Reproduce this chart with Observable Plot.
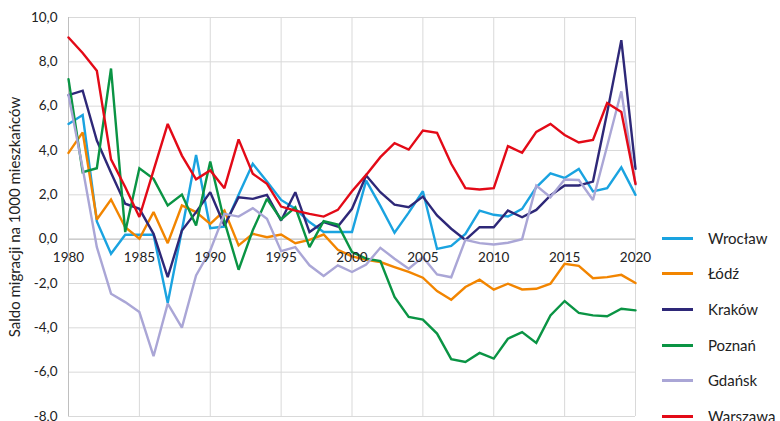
<!DOCTYPE html>
<html>
<head>
<meta charset="utf-8">
<script src="https://cdn.jsdelivr.net/npm/d3@7"></script>
<script src="https://cdn.jsdelivr.net/npm/@observablehq/plot@0.6"></script>
<style>
  html, body { margin: 0; padding: 0; background: #fff; overflow: hidden; }
  #wrap { position: relative; width: 780px; height: 421px; overflow: hidden; font-family: Lato, "Open Sans", sans-serif; }
  #legend { position: absolute; left: 662px; top: 0; width: 118px; height: 421px; }
  .item { position: absolute; left: 0; height: 20px; display: flex; align-items: center; font-size: 15px; color: #222; white-space: nowrap; }
  .item .sw { width: 31px; height: 3px; margin-right: 15px; }
</style>
</head>
<body>
<div id="wrap"><div id="legend"></div></div>
<script>
const years = d3.range(1980, 2021);
const cities = ["Wrocław", "Łódź", "Kraków", "Poznań", "Gdańsk", "Warszawa"];
const colors = ["#1aa3e0", "#f28500", "#2e2878", "#0a9444", "#aaa6d6", "#e30a17"];

const wroclaw = [5.2, 5.6, 0.8, -0.66, 0.2, 0.2, 0.2, -2.88, 0.4, 3.8, 0.5, 0.57, 2.0, 3.4, 2.6, 1.77, 1.37, 0.77, 0.32, 0.32, 0.32, 2.64, 1.5, 0.29, 1.2, 2.16, -0.44, -0.3, 0.24, 1.29, 1.1, 1.02, 1.37, 2.34, 2.97, 2.76, 3.17, 2.15, 2.3, 3.24, 2.0];
const lodz = [3.89, 4.82, 0.89, 1.79, 0.54, 0.02, 1.22, -0.18, 1.52, 1.22, 0.69, 1.29, -0.28, 0.24, 0.09, 0.21, -0.18, -0.03, 0.21, -0.48, -0.78, -0.93, -1.03, -1.26, -1.48, -1.74, -2.34, -2.73, -2.16, -1.83, -2.28, -2.01, -2.27, -2.24, -2.01, -1.11, -1.2, -1.76, -1.71, -1.61, -1.98];
const krakow = [6.5, 6.7, 4.45, 3.0, 1.6, 1.37, 0.24, -1.71, 0.39, 1.22, 2.12, 0.62, 1.89, 1.82, 2.0, 0.84, 2.12, 0.32, 0.77, 0.57, 1.37, 2.87, 2.12, 1.56, 1.44, 1.92, 1.07, 0.47, -0.03, 0.54, 0.54, 1.29, 0.99, 1.32, 1.97, 2.42, 2.42, 2.6, 5.7, 8.98, 3.17];
const poznan = [7.22, 3.02, 3.2, 7.7, 0.32, 3.2, 2.72, 1.52, 2.01, 0.62, 3.5, 0.8, -1.38, 0.4, 1.82, 0.89, 1.44, -0.36, 0.81, 0.66, -0.58, -0.88, -0.99, -2.61, -3.51, -3.63, -4.26, -5.41, -5.54, -5.13, -5.39, -4.49, -4.19, -4.68, -3.44, -2.79, -3.33, -3.44, -3.48, -3.14, -3.21];
const gdansk = [6.5, 3.2, -0.36, -2.46, -2.84, -3.29, -5.28, -2.91, -3.99, -1.64, -0.51, 1.14, 1.02, 1.4, 0.92, -0.54, -0.36, -1.18, -1.66, -1.18, -1.48, -1.14, -0.39, -0.88, -1.33, -0.81, -1.59, -1.72, -0.03, -0.18, -0.24, -0.16, 0.0, 2.42, 1.89, 2.69, 2.67, 1.77, 4.2, 6.67, 2.46];
const warszawa = [9.1, 8.4, 7.6, 3.6, 2.35, 1.0, 3.1, 5.2, 3.77, 2.7, 3.1, 2.3, 4.5, 2.95, 2.5, 1.47, 1.29, 1.14, 1.02, 1.32, 2.16, 2.9, 3.7, 4.33, 4.04, 4.9, 4.8, 3.4, 2.3, 2.24, 2.3, 4.2, 3.9, 4.84, 5.2, 4.7, 4.36, 4.48, 6.14, 5.74, 2.5];

const yTicks = [-8, -6, -4, -2, 0, 2, 4, 6, 8, 10];
const xTicks = [1980, 1985, 1990, 1995, 2000, 2005, 2010, 2015, 2020];
const yTitle = "Saldo migracji na 1000 mieszkańców";

const series = [wroclaw, lodz, krakow, poznan, gdansk, warszawa];
const data = series.flatMap((vals, i) => vals.map((v, j) => ({city: cities[i], year: years[j], value: v})));

const fmt = d => d.toFixed(1).replace(".", ",");

const chart = Plot.plot({
  width: 780,
  height: 421,
  marginLeft: 68,
  marginRight: 145,
  marginTop: 17,
  marginBottom: 5,
  style: {fontFamily: "Lato, 'Open Sans', sans-serif", fontSize: "13px", color: "#222", background: "#fff"},
  x: {domain: [1980, 2020], axis: null},
  y: {domain: [-8, 10], axis: null},
  color: {domain: cities, range: colors},
  marks: [
    Plot.ruleY(yTicks, {y: d => d, stroke: "#d9d9d9", strokeWidth: 1}),
    Plot.ruleX(xTicks, {x: d => d, stroke: "#d9d9d9", strokeWidth: 1}),
    Plot.ruleY([0], {y: d => d, stroke: "#bfbfbf", strokeWidth: 1}),
    Plot.ruleX([1980], {x: d => d, stroke: "#bfbfbf", strokeWidth: 1}),
    Plot.line(data, {x: "year", y: "value", z: "city", stroke: "city", strokeWidth: 2.4, strokeLinejoin: "miter", strokeMiterlimit: 2}),
    Plot.text(yTicks, {y: d => d, frameAnchor: "left", text: fmt, textAnchor: "end", dx: -11, fill: "#222", fontSize: 13.5}),
    Plot.text(xTicks, {x: d => d, y: () => 0, text: d => String(d), dy: 19, fill: "#222", fontSize: 13.5}),
    Plot.text([yTitle], {frameAnchor: "left", textAnchor: "middle", text: d => d, rotate: -90, dx: -53, fill: "#222", fontSize: 15})
  ]
});
document.getElementById("wrap").prepend(chart);

const legend = document.getElementById("legend");
const legendTops = [228, 263, 299, 335, 370, 406];
cities.forEach((c, i) => {
  const it = document.createElement("div");
  it.className = "item";
  it.style.top = legendTops[i] + "px";
  const sw = document.createElement("span");
  sw.className = "sw";
  sw.style.background = colors[i];
  const t = document.createElement("span");
  t.textContent = c;
  it.append(sw, t);
  legend.append(it);
});
</script>
</body>
</html>
